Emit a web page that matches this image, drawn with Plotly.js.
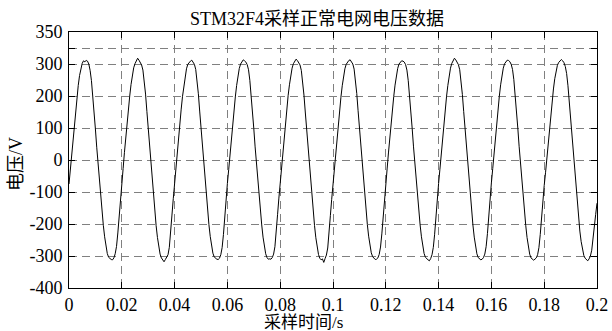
<!DOCTYPE html>
<html>
<head>
<meta charset="utf-8">
<script src="https://cdn.plot.ly/plotly-3.0.1.min.js"></script>
<style>html,body{margin:0;padding:0;background:#fff;}#chart{width:612px;height:331px;}</style>
</head>
<body>
<div id="chart"></div>
<script>
// Sample times (s)
const sampleTime = [
0,0.0005,0.001,0.0015,0.002,0.0025,0.003,0.0035,0.004,0.0045,0.005,0.0055,0.006,0.0065,0.007,0.0075,0.008,0.0085,0.009,0.0095,0.01,0.0105,0.011,0.0115,0.012,0.0125,0.013,0.0135,0.014,0.0145,0.015,0.0155,0.016,0.0165,0.017,0.0175,0.018,0.0185,0.019,0.0195,
0.02,0.0205,0.021,0.0215,0.022,0.0225,0.023,0.0235,0.024,0.0245,0.025,0.0255,0.026,0.0265,0.027,0.0275,0.028,0.0285,0.029,0.0295,0.03,0.0305,0.031,0.0315,0.032,0.0325,0.033,0.0335,0.034,0.0345,0.035,0.0355,0.036,0.0365,0.037,0.0375,0.038,0.0385,0.039,0.0395,
0.04,0.0405,0.041,0.0415,0.042,0.0425,0.043,0.0435,0.044,0.0445,0.045,0.0455,0.046,0.0465,0.047,0.0475,0.048,0.0485,0.049,0.0495,0.05,0.0505,0.051,0.0515,0.052,0.0525,0.053,0.0535,0.054,0.0545,0.055,0.0555,0.056,0.0565,0.057,0.0575,0.058,0.0585,0.059,0.0595,
0.06,0.0605,0.061,0.0615,0.062,0.0625,0.063,0.0635,0.064,0.0645,0.065,0.0655,0.066,0.0665,0.067,0.0675,0.068,0.0685,0.069,0.0695,0.07,0.0705,0.071,0.0715,0.072,0.0725,0.073,0.0735,0.074,0.0745,0.075,0.0755,0.076,0.0765,0.077,0.0775,0.078,0.0785,0.079,0.0795,
0.08,0.0805,0.081,0.0815,0.082,0.0825,0.083,0.0835,0.084,0.0845,0.085,0.0855,0.086,0.0865,0.087,0.0875,0.088,0.0885,0.089,0.0895,0.09,0.0905,0.091,0.0915,0.092,0.0925,0.093,0.0935,0.094,0.0945,0.095,0.0955,0.096,0.0965,0.097,0.0975,0.098,0.0985,0.099,0.0995,
0.1,0.1005,0.101,0.1015,0.102,0.1025,0.103,0.1035,0.104,0.1045,0.105,0.1055,0.106,0.1065,0.107,0.1075,0.108,0.1085,0.109,0.1095,0.11,0.1105,0.111,0.1115,0.112,0.1125,0.113,0.1135,0.114,0.1145,0.115,0.1155,0.116,0.1165,0.117,0.1175,0.118,0.1185,0.119,0.1195,
0.12,0.1205,0.121,0.1215,0.122,0.1225,0.123,0.1235,0.124,0.1245,0.125,0.1255,0.126,0.1265,0.127,0.1275,0.128,0.1285,0.129,0.1295,0.13,0.1305,0.131,0.1315,0.132,0.1325,0.133,0.1335,0.134,0.1345,0.135,0.1355,0.136,0.1365,0.137,0.1375,0.138,0.1385,0.139,0.1395,
0.14,0.1405,0.141,0.1415,0.142,0.1425,0.143,0.1435,0.144,0.1445,0.145,0.1455,0.146,0.1465,0.147,0.1475,0.148,0.1485,0.149,0.1495,0.15,0.1505,0.151,0.1515,0.152,0.1525,0.153,0.1535,0.154,0.1545,0.155,0.1555,0.156,0.1565,0.157,0.1575,0.158,0.1585,0.159,0.1595,
0.16,0.1605,0.161,0.1615,0.162,0.1625,0.163,0.1635,0.164,0.1645,0.165,0.1655,0.166,0.1665,0.167,0.1675,0.168,0.1685,0.169,0.1695,0.17,0.1705,0.171,0.1715,0.172,0.1725,0.173,0.1735,0.174,0.1745,0.175,0.1755,0.176,0.1765,0.177,0.1775,0.178,0.1785,0.179,0.1795,
0.18,0.1805,0.181,0.1815,0.182,0.1825,0.183,0.1835,0.184,0.1845,0.185,0.1855,0.186,0.1865,0.187,0.1875,0.188,0.1885,0.189,0.1895,0.19,0.1905,0.191,0.1915,0.192,0.1925,0.193,0.1935,0.194,0.1945,0.195,0.1955,0.196,0.1965,0.197,0.1975,0.198,0.1985,0.199,0.1995,
0.2
];

const gridVoltage = [
-75,-30,20,68,114,157,198,233,264,286,302,310,307,311,309,300,280,248,203,150,97,40,-14,-64,-113,-161,-204,-240,-268,-292,-304,-309,-311,-312,-306,-293,-270,-228,-170,-120,
-72,-27,24,72,118,160,200,236,265,288,301,309,318,312,305,297,281,250,206,152,99,42,-13,-66,-114,-162,-205,-242,-270,-294,-306,-314,-318,-311,-305,-296,-273,-232,-172,-121,
-70,-26,23,70,116,159,199,234,263,285,299,306,309,312,307,299,283,251,207,153,100,43,-12,-63,-111,-159,-202,-239,-267,-291,-303,-308,-310,-311,-307,-296,-274,-233,-173,-122,
-73,-29,21,69,115,158,197,233,262,286,300,308,313,310,306,298,282,249,204,151,98,41,-14,-65,-113,-160,-203,-241,-269,-293,-305,-310,-309,-310,-305,-294,-271,-230,-171,-119,
-71,-27,22,71,117,160,201,235,264,287,301,309,315,311,305,297,280,247,203,150,97,40,-15,-66,-115,-162,-205,-243,-271,-295,-307,-312,-309,-320,-308,-297,-275,-234,-174,-123,
-74,-30,19,67,113,156,196,232,262,285,299,307,311,313,308,300,284,252,208,154,101,44,-11,-62,-110,-158,-201,-238,-266,-290,-302,-308,-311,-310,-306,-295,-272,-231,-172,-121,
-72,-28,22,70,116,158,198,234,263,286,300,306,310,309,306,298,281,248,204,151,98,41,-13,-64,-112,-160,-203,-240,-268,-292,-304,-309,-312,-315,-308,-296,-273,-232,-172,-122,
-73,-29,20,69,115,157,198,233,264,287,302,310,318,313,306,298,282,250,205,152,99,42,-12,-63,-112,-160,-203,-241,-269,-293,-305,-310,-312,-310,-305,-294,-271,-230,-170,-120,
-71,-27,23,71,117,159,199,235,264,287,301,308,312,311,307,299,283,251,206,153,100,43,-12,-64,-113,-161,-204,-242,-270,-294,-306,-311,-313,-310,-306,-296,-274,-233,-174,-124,
-80,-40,8,55,100,143,185,222,254,279,296,305,309,314,310,304,292,270,232,180,128,72,18,-35,-85,-133,-180,-222,-255,-280,-298,-307,-312,-315,-309,-300,-282,-250,-205,-170,
-135
];

// Axis ticks
const xTickVals = [0,0.02,0.04,0.06,0.08,0.1,0.12,0.14,0.16,0.18,0.2];
const xTickText = ['0','0.02','0.04','0.06','0.08','0.1','0.12','0.14','0.16','0.18','0.2'];
const yTickVals = [-400,-300,-200,-100,0,100,200,300,350,400];
const yTickText = ['-400','-300','-200','-100','0','100','200','300','','350'];

const titleText = 'STM32F4采样正常电网电压数据';
const xLabel = '采样时间/s';
const yLabel = '电压/V';

const FONT = "'Liberation Serif', 'Noto Sans CJK SC', serif";

const trace = {
  x: sampleTime,
  y: gridVoltage,
  type: 'scatter',
  mode: 'lines',
  line: {color: '#000000', width: 1},
  hoverinfo: 'skip'
};

const axisCommon = {
  showline: true,
  linecolor: '#000000',
  linewidth: 1,
  mirror: 'ticks',
  ticks: 'inside',
  ticklen: 6,
  tickwidth: 1,
  tickcolor: '#000000',
  showgrid: true,
  gridcolor: '#808080',
  gridwidth: 1,
  griddash: '8px,5px',
  zeroline: false,
  tickmode: 'array',
  tickfont: {family: FONT, size: 18, color: '#000000'}
};

const layout = {
  width: 612,
  height: 331,
  margin: {l: 69, r: 15, t: 32, b: 43, pad: 0},
  paper_bgcolor: '#ffffff',
  plot_bgcolor: '#ffffff',
  showlegend: false,
  font: {family: FONT, size: 18, color: '#000000'},
  title: {
    text: titleText,
    font: {family: FONT, size: 18, color: '#000000'},
    x: 317 / 612, xanchor: 'center', xref: 'container',
    y: 1 - 19 / 331, yanchor: 'middle', yref: 'container'
  },
  xaxis: Object.assign({}, axisCommon, {
    range: [0, 0.2],
    tickvals: xTickVals,
    ticktext: xTickText,
    ticklabelstandoff: 0
  }),
  yaxis: Object.assign({}, axisCommon, {
    range: [-400, 400],
    tickvals: yTickVals,
    ticktext: yTickText,
    ticklabelstandoff: 2
  }),
  annotations: [
    {
      text: xLabel, xref: 'paper', yref: 'paper',
      x: (303 - 69) / 528, y: (288 - 322) / 256,
      xanchor: 'center', yanchor: 'middle', showarrow: false,
      font: {family: FONT, size: 17, color: '#000000'}
    },
    {
      text: yLabel, xref: 'paper', yref: 'paper',
      x: (16 - 69) / 528, y: (288 - 164) / 256,
      xanchor: 'center', yanchor: 'middle', showarrow: false, textangle: -90,
      font: {family: FONT, size: 18, color: '#000000'}
    }
  ]
};

Plotly.newPlot('chart', [trace], layout, {staticPlot: true, displayModeBar: false});
</script>
</body>
</html>
